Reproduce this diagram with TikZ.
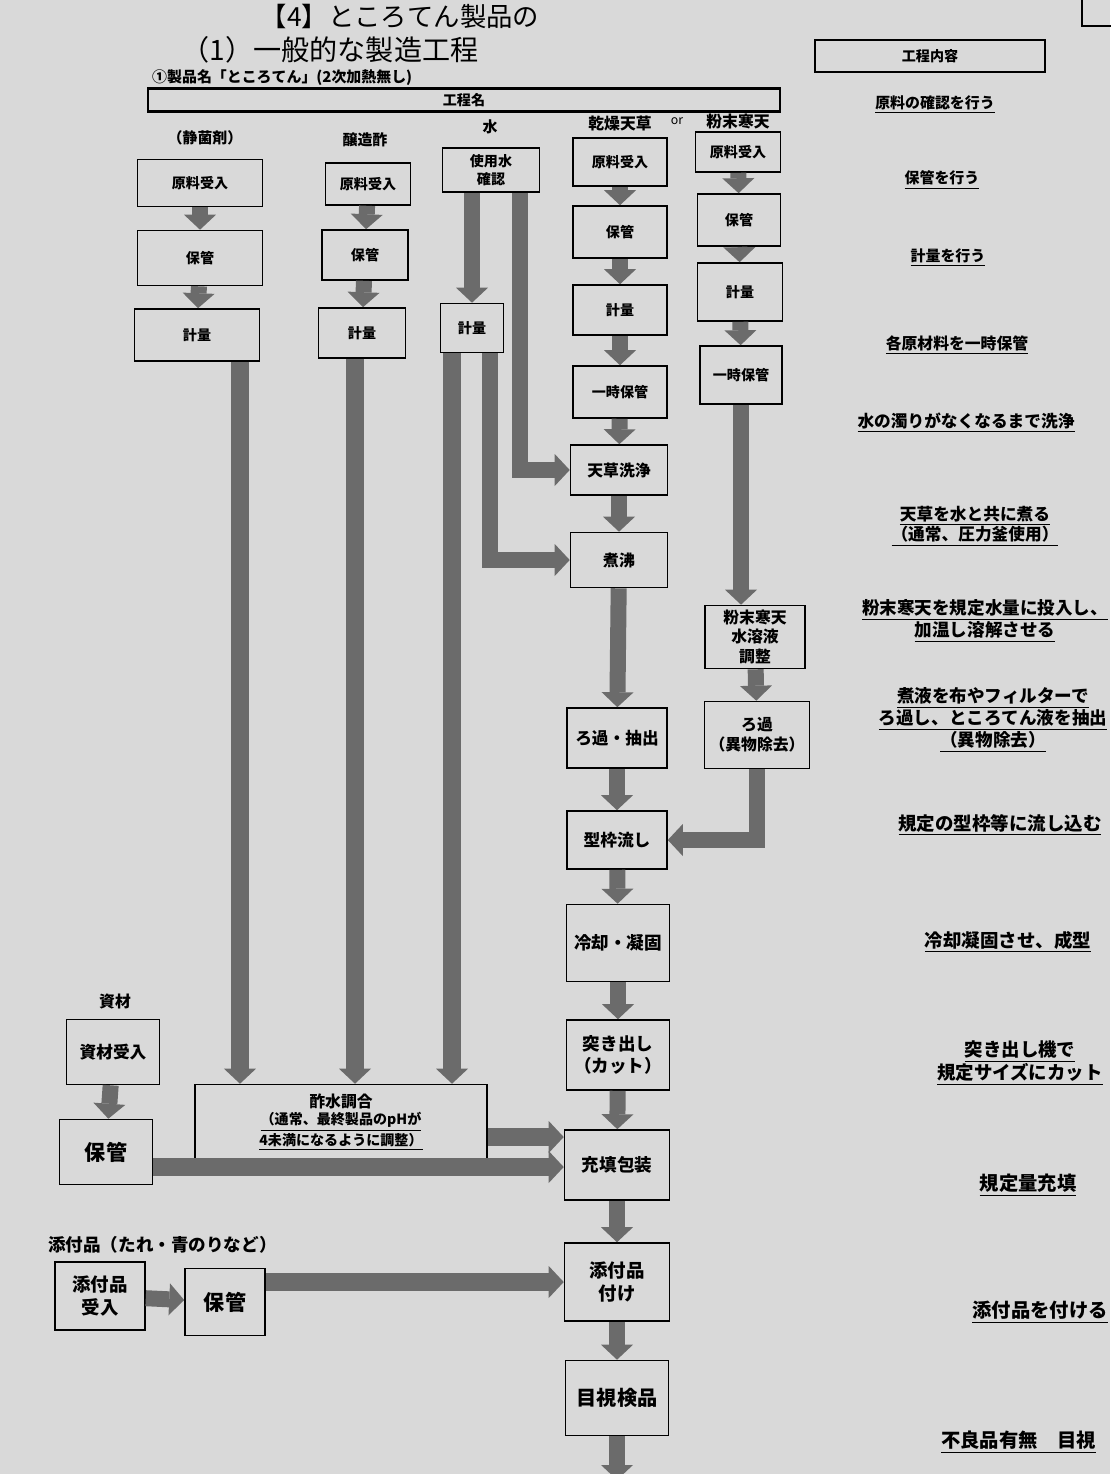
\documentclass[tikz,border=0pt]{standalone}
\usepackage{fontspec}
\setmainfont{Noto Sans CJK JP}
\usepackage{tikz}
\usetikzlibrary{arrows.meta, positioning}
\definecolor{paper}{gray}{0.85}
\definecolor{pipe}{gray}{0.42}
\newcommand{\fs}[1]{\fontsize{#1}{\fpeval{1.25*#1}}\selectfont}

\begin{document}
\begin{tikzpicture}[x=0.02cm, y=-0.02cm,
    box/.style={rectangle, draw, line width=0.9pt, fill=paper, align=center, inner sep=1pt, font=\bfseries\fs{8}},
    bigbox/.style={box, font=\bfseries\fs{10}},
    note/.style={align=center, font=\bfseries\fs{9}},
    label/.style={font=\bfseries\fs{8.5}},
    line/.style={draw=pipe, line width=0.32cm, -{Triangle[width=0.64cm, length=0.3cm, line width=0pt]}},
    wideline/.style={line, line width=0.36cm}
]
\fill[paper] (0,0) rectangle (1110,1474);
\useasboundingbox (0,0) rectangle (1110,1474);

% page heading
\node (head) at (400,16) {\fs{15}【4】ところてん製品の};
\node (title) at (330,50) {\fs{16}（1）一般的な製造工程};
\node [box, minimum width=4.6cm, minimum height=0.64cm] (content) at (930,56) {工程内容};
\draw [line width=0.9pt] (1082,-10) rectangle (1130,26);
\node [label, anchor=west] (product) at (146,78) {①製品名「ところてん」(2次加熱無し)};
\node [box, minimum width=12.64cm, minimum height=0.46cm, line width=1.3pt] (band) at (464,100) {工程名};

% column heads
\node [label] (lab1) at (205,138) {（静菌剤）};
\node [label] (lab2) at (365,140) {醸造酢};
\node [label] (lab3) at (490,127) {水};
\node [label, font=\bfseries\fs{9}] (lab4) at (620,124) {乾燥天草};
\node [font=\itshape\fs{7}] (or) at (677,121) {or};
\node [label, font=\bfseries\fs{9}] (lab5) at (738,121) {粉末寒天};

% 静菌剤
\node [box, minimum width=2.5cm, minimum height=0.94cm] (recv1) at (200,183) {原料受入};
\node [box, minimum width=2.5cm, minimum height=1.1cm] (store1) at (200,258) {保管};
\node [box, minimum width=2.5cm, minimum height=1.04cm] (weigh1) at (197,335) {計量};

% 醸造酢
\node [box, minimum width=1.7cm, minimum height=0.84cm] (recv2) at (368,184) {原料受入};
\node [box, minimum width=1.72cm, minimum height=1cm] (store2) at (365,255) {保管};
\node [box, minimum width=1.74cm, minimum height=1cm] (weigh2) at (362,333) {計量};

% 水
\node [box, minimum width=1.94cm, minimum height=0.88cm] (water) at (491,170) {使用水\\確認};
\node [box, minimum width=1.26cm, minimum height=0.98cm] (weigh3) at (472,328) {計量};

% 乾燥天草
\node [box, minimum width=1.88cm, minimum height=0.96cm] (recv4) at (620,162) {原料受入};
\node [box, minimum width=1.88cm, minimum height=1.04cm] (store4) at (620,232) {保管};
\node [box, minimum width=1.88cm, minimum height=1cm] (weigh4) at (620,310) {計量};
\node [box, minimum width=1.88cm, minimum height=1.04cm] (temp4) at (620,392) {一時保管};
\node [box, minimum width=1.94cm, minimum height=1cm, font=\bfseries\fs{9}] (wash) at (619,470) {天草洗浄};
\node [box, minimum width=1.94cm, minimum height=1.1cm, font=\bfseries\fs{9}] (boil) at (619,560) {煮沸};
\node [box, minimum width=2cm, minimum height=1.2cm, font=\bfseries\fs{9.5}] (extract) at (617,738) {ろ過・抽出};
\node [box, minimum width=2cm, minimum height=1.16cm, font=\bfseries\fs{9.5}] (mold) at (617,840) {型枠流し};
\node [bigbox, minimum width=2.06cm, minimum height=1.54cm] (cool) at (618,943) {冷却・凝固};
\node [bigbox, minimum width=2.06cm, minimum height=1.4cm] (push) at (618,1055) {突き出し\\（カット）};
\node [bigbox, minimum width=2.1cm, minimum height=1.4cm] (fill) at (617,1165) {充填包装};
\node [bigbox, minimum width=2.1cm, minimum height=1.56cm, font=\bfseries\fs{10.5}] (attach) at (617,1282) {添付品\\付け};
\node [bigbox, minimum width=2.06cm, minimum height=1.5cm, font=\bfseries\fs{11.5}] (check) at (617,1398) {目視検品};
\coordinate (out) at (617,1480);

% 粉末寒天
\node [box, minimum width=1.7cm, minimum height=0.8cm] (recv5) at (738,152) {原料受入};
\node [box, minimum width=1.66cm, minimum height=1.04cm] (store5) at (739,220) {保管};
\node [box, minimum width=1.7cm, minimum height=1.16cm] (weigh5) at (740,292) {計量};
\node [box, minimum width=1.64cm, minimum height=1.16cm] (temp5) at (741,375) {一時保管};
\node [box, minimum width=2cm, minimum height=1.26cm, font=\bfseries\fs{9}] (sol) at (755,637) {粉末寒天\\水溶液\\調整};
\node [box, minimum width=2.1cm, minimum height=1.34cm, font=\bfseries\fs{9}] (filt5) at (757,735) {ろ過\\（異物除去）};

% 酢水調合
\node [box, minimum width=5.84cm, minimum height=1.5cm] (mix) at (341,1122)
    {{\fs{9}酢水調合}\\\underline{（通常、最終製品のpHが}\\\underline{4未満になるように調整）}};

% 資材
\node [label, font=\bfseries\fs{9}] (matlab) at (115,1002) {資材};
\node [box, minimum width=1.86cm, minimum height=1.3cm, font=\bfseries\fs{9.5}] (matrecv) at (113,1052) {資材受入};
\node [box, minimum width=1.86cm, minimum height=1.3cm, font=\bfseries\fs{12}] (matstore) at (106,1152) {保管};

% 添付品
\node [label, anchor=west, font=\bfseries\fs{10}] (acclab) at (42,1245) {添付品（たれ・青のりなど）};
\node [box, minimum width=1.8cm, minimum height=1.36cm, font=\bfseries\fs{10.5}] (accrecv) at (100,1296) {添付品\\受入};
\node [box, minimum width=1.6cm, minimum height=1.34cm, font=\bfseries\fs{12}] (accstore) at (225,1302) {保管};

% short steps
\foreach \a/\b in {recv1/store1, store1/weigh1, recv2/store2, store2/weigh2,
    recv4/store4, store4/weigh4, weigh4/temp4, temp4/wash, wash/boil,
    extract/mold, mold/cool, cool/push, push/fill, fill/attach, attach/check,
    recv5/store5, store5/weigh5, weigh5/temp5, sol/filt5, matrecv/matstore}
  \draw [line] (\a) -- (\b);
\draw [line] (check) -- (out);
\draw [line] (boil) -- (extract);
\draw [line] (water.south -| weigh3) -- (weigh3);
\draw [line] (temp5) -- (temp5.south |- sol.north);

% water feeds
\draw [line] ([xshift=0.58cm]water.south) |- (wash.west);
\draw [line] ([xshift=0.36cm]weigh3.south) |- (boil.west);

% to 酢水調合
\draw [wideline] ([xshift=0.86cm]weigh1.south) -- ([xshift=0.86cm]weigh1.south |- mix.north);
\draw [wideline] ([xshift=-0.14cm]weigh2.south) -- ([xshift=-0.14cm]weigh2.south |- mix.north);
\draw [wideline] ([xshift=-0.4cm]weigh3.south) -- ([xshift=-0.4cm]weigh3.south |- mix.north);

% into the main line
\draw [line] (filt5) |- (mold.east);
\draw [wideline] ([yshift=-0.3cm]mix.east) -- ([yshift=-0.3cm]mix.east -| fill.west);
\draw [wideline] ([yshift=-0.3cm]matstore.east) -- ([yshift=-0.3cm]matstore.east -| fill.west);
\draw [line] (accrecv) -- (accstore);
\draw [wideline] (accstore.east |- attach.west) -- (attach.west);

% 工程内容
\node [note, font=\bfseries\fs{8.5}] (n1) at (935,105) {\underline{原料の確認を行う}};
\node [note, font=\bfseries\fs{8.5}] (n2) at (942,180) {\underline{保管を行う}};
\node [note, font=\bfseries\fs{8.5}] (n3) at (948,258) {\underline{計量を行う}};
\node [note] (n4) at (957,345) {\underline{各原材料を一時保管}};
\node [note, font=\bfseries\fs{9.5}] (n5) at (966,423) {\underline{水の濁りがなくなるまで洗浄}};
\node [note, font=\bfseries\fs{9.5}] (n6) at (975,526) {\underline{天草を水と共に煮る}\\\underline{（通常、圧力釜使用）}};
\node [note, font=\bfseries\fs{10}] (n7) at (985,621) {\underline{粉末寒天を規定水量に投入し、}\\\underline{加温し溶解させる}};
\node [note, font=\bfseries\fs{10}] (n8) at (993,720) {\underline{煮液を布やフィルターで}\\\underline{ろ過し、ところてん液を抽出}\\\underline{（異物除去）}};
\node [note, font=\bfseries\fs{10.5}] (n9) at (1000,825) {\underline{規定の型枠等に流し込む}};
\node [note, font=\bfseries\fs{10.5}] (n10) at (1008,942) {\underline{冷却凝固させ、成型}};
\node [note, font=\bfseries\fs{10.5}] (n11) at (1020,1063) {\underline{突き出し機で}\\\underline{規定サイズにカット}};
\node [note, font=\bfseries\fs{11}] (n12) at (1028,1185) {\underline{規定量充填}};
\node [note, font=\bfseries\fs{11}] (n13) at (1040,1312) {\underline{添付品を付ける}};
\node [note, anchor=west, font=\bfseries\fs{11}] (n14) at (935,1442) {\underline{不良品有無　目視}};
\end{tikzpicture}
\end{document}
